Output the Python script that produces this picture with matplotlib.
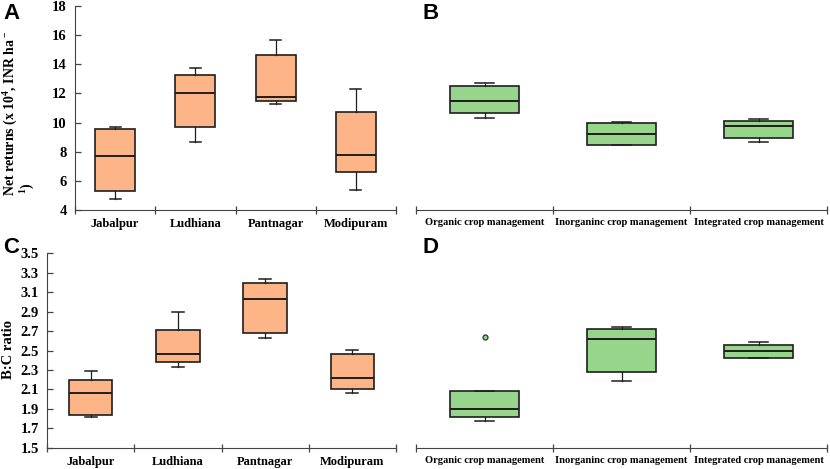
import matplotlib
matplotlib.use("Agg")
import matplotlib.pyplot as plt

plt.rcParams["mathtext.fontset"] = "custom"
plt.rcParams["mathtext.rm"] = "Liberation Serif:bold"
plt.rcParams["mathtext.bf"] = "Liberation Serif:bold"

# site level data (panels A and C)
sites = ["Jabalpur", "Ludhiana", "Pantnagar", "Modipuram"]
# management level data (panels B and D)
managements = ["Organic crop management", "Inorganinc crop management",
               "Integrated crop management"]

# A: net returns by site
a_lo = [4.73, 8.69, 11.25, 5.37]
a_q1 = [5.32, 9.69, 11.48, 6.58]
a_med = [7.70, 12.05, 11.78, 7.77]
a_q3 = [9.53, 13.29, 14.66, 10.70]
a_hi = [9.72, 13.77, 15.69, 12.28]

# B: net returns by management
b_lo = [10.31, 8.48, 8.64]
b_q1 = [10.63, 8.48, 8.96]
b_med = [11.48, 9.19, 9.74]
b_q3 = [12.51, 9.99, 10.13]
b_hi = [12.71, 10.06, 10.27]

# C: B:C ratio by site
c_lo = [1.815, 2.33, 2.625, 2.06]
c_q1 = [1.836, 2.377, 2.683, 2.10]
c_med = [2.064, 2.46, 3.03, 2.22]
c_q3 = [2.20, 2.707, 3.198, 2.46]
c_hi = [2.286, 2.896, 3.232, 2.51]

# D: B:C ratio by management
d_lo = [1.775, 2.19, 2.42]
d_q1 = [1.812, 2.279, 2.42]
d_med = [1.895, 2.615, 2.49]
d_q3 = [2.087, 2.72, 2.56]
d_hi = [2.087, 2.742, 2.59]
d_fliers = [[2.636], [], []]

ORANGE = "#fdb486"
GREEN = "#98d58c"


def make_stats(lo, q1, med, q3, hi, fliers=None):
    stats = []
    for i in range(len(lo)):
        stats.append({"whislo": lo[i], "q1": q1[i], "med": med[i],
                      "q3": q3[i], "whishi": hi[i],
                      "fliers": fliers[i] if fliers else []})
    return stats


def draw(ax, stats, labels, color, show_y, label_size):
    n = len(stats)
    ax.bxp(stats, positions=[i + 0.5 for i in range(n)], widths=0.5,
           patch_artist=True, showfliers=True,
           boxprops=dict(facecolor=color, edgecolor="#1e1e1e", linewidth=1.2),
           medianprops=dict(color="#1e1e1e", linewidth=1.4),
           whiskerprops=dict(color="#1e1e1e", linewidth=0.9),
           capprops=dict(color="#1e1e1e", linewidth=1.1),
           capwidths=0.14,
           flierprops=dict(marker="o", markersize=3.5, markerfacecolor=color,
                           markeredgecolor="#2a4a2a", markeredgewidth=1.0))
    ax.set_xlim(0, n)
    ax.set_xticks(range(n + 1))
    ax.set_xticklabels([])
    ax.set_xticks([i + 0.5 for i in range(n)], minor=True)
    ax.set_xticklabels(labels, minor=True, fontfamily="Liberation Serif",
                       fontweight="bold", fontsize=label_size)
    ax.tick_params(axis="x", which="major", direction="inout", length=6,
                   width=0.9, color="#444444")
    ax.tick_params(axis="x", which="minor", length=0, pad=6)
    ax.spines["top"].set_visible(False)
    ax.spines["right"].set_visible(False)
    ax.spines["bottom"].set_color("#444444")
    if show_y:
        ax.spines["left"].set_color("#444444")
        ax.tick_params(axis="y", direction="in", length=4, width=0.9,
                       color="#444444", labelsize=10.5, pad=6)
        for t in ax.get_yticklabels():
            t.set_fontfamily("Liberation Serif")
            t.set_fontweight("bold")
    else:
        ax.spines["left"].set_visible(False)
        ax.set_yticks([])


fig = plt.figure(figsize=(8.3, 4.69), dpi=100)
W, H = 830.0, 469.0

ax_a = fig.add_axes([75 / W, 1 - 210 / H, 321 / W, 204 / H])
ax_b = fig.add_axes([416 / W, 1 - 210 / H, 411 / W, 204 / H])
ax_c = fig.add_axes([47 / W, 1 - 447.5 / H, 349 / W, 194 / H])
ax_d = fig.add_axes([416 / W, 1 - 447.5 / H, 411 / W, 194 / H])

for ax in (ax_a, ax_b):
    ax.set_ylim(4, 18)
    ax.set_yticks(range(4, 19, 2))
for ax in (ax_c, ax_d):
    ax.set_ylim(1.5, 3.5)
    ax.set_yticks([1.5 + 0.2 * i for i in range(11)])
    ax.set_yticklabels([f"{1.5 + 0.2 * i:.1f}" for i in range(11)])

draw(ax_a, make_stats(a_lo, a_q1, a_med, a_q3, a_hi), sites, ORANGE, True, 9)
draw(ax_b, make_stats(b_lo, b_q1, b_med, b_q3, b_hi), managements, GREEN,
     False, 7.6)
draw(ax_c, make_stats(c_lo, c_q1, c_med, c_q3, c_hi), sites, ORANGE, True, 9)
draw(ax_d, make_stats(d_lo, d_q1, d_med, d_q3, d_hi, d_fliers),
     managements, GREEN, False, 7.6)

# y label of A wraps onto two lines in the original
lab = dict(fontfamily="Liberation Serif", fontweight="bold", fontsize=10,
           rotation=90, ha="center", va="bottom")
fig.text(10 / W, 1 - 196 / H, "Net returns (x 10$^4$, INR ha$^-$", **lab)
fig.text(27 / W, 1 - 194 / H, "$^1$)", **lab)
fig.text(9 / W, 1 - 379 / H, "B:C ratio", **dict(lab, fontsize=10.5))

for letter, (x, y) in zip("ABCD", [(3, 3), (422, 3), (3, 237), (422, 237)]):
    fig.text(x / W, 1 - y / H, letter, fontfamily="Liberation Sans",
             fontweight="bold", fontsize=16, va="top", ha="left")

fig.savefig("out.png", dpi=100)
